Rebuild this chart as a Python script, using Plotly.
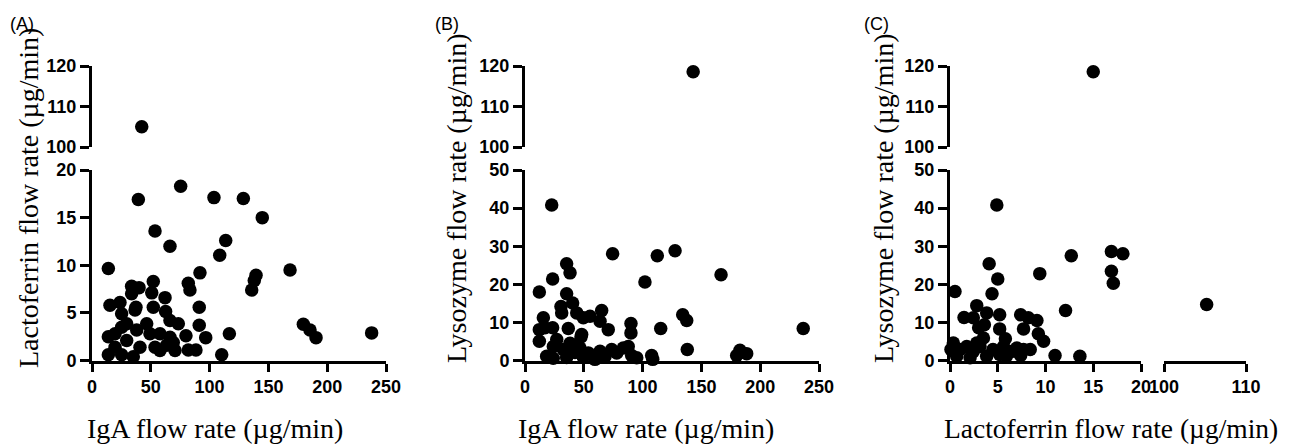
import plotly.graph_objects as go

# ---- Data ----
# Panel A: IgA flow rate (x) vs Lactoferrin flow rate (y)
A_iga = [13.9, 39.4, 75.4, 103.7, 128.7, 144.8, 53.6, 66.3, 113.7, 108.6, 91.8, 168.4, 139.5, 138.0,
         135.8, 81.9, 83.3, 52.1, 50.8, 52.1, 33.7, 40.0, 33.7, 62.1, 91.2, 15.3, 23.8, 25.2, 36.6,
         62.6, 66.3, 73.4, 91.2, 96.7, 116.8, 110.3, 179.7, 185.4, 190.5, 237.8, 13.9, 13.9, 19.6,
         25.2, 35.1, 29.5, 40.8, 46.5, 49.3, 53.6, 57.8, 63.5, 69.1, 70.6, 79.9, 81.9, 88.4, 29.5,
         38.0, 37.4, 25.2, 19.6, 57.8, 66.3, 42.3]
A_lacto = [9.65, 16.9, 18.3, 17.1, 17.0, 15.0, 13.6, 12.0, 12.6, 11.05, 9.2, 9.5, 8.95, 8.4,
           7.4, 8.1, 7.4, 8.3, 7.1, 5.6, 7.8, 7.65, 7.0, 6.6, 5.6, 5.8, 6.1, 4.9, 5.3,
           5.15, 4.2, 3.85, 3.7, 2.4, 2.8, 0.6, 3.8, 3.2, 2.4, 2.9, 0.6, 2.5, 2.8,
           0.6, 0.4, 2.1, 1.4, 3.85, 2.8, 1.4, 1.05, 1.6, 1.9, 1.05, 2.6, 1.1, 1.1, 3.85,
           3.2, 5.6, 3.5, 1.4, 2.8, 2.45, 105.0]

# Panel B: IgA flow rate (x) vs Lysozyme flow rate (y)
B_iga = [12.2, 15.6, 12.2, 12.2, 23.5, 35.4, 38.3, 35.4, 30.6, 31.2, 40.5, 44.0, 49.6, 55.3, 65.2,
         63.8, 70.8, 74.5, 23.5, 36.8, 47.6, 90.1, 90.1, 102.0, 112.5, 127.6, 115.4, 134.1, 137.5,
         138.0, 166.7, 236.6, 180.0, 182.8, 188.5, 107.7, 108.6, 18.4, 24.0, 24.1, 32.6, 35.4, 39.7,
         42.5, 46.8, 49.6, 53.8, 59.5, 63.8, 68.0, 73.7, 78.0, 83.6, 87.8, 90.7, 95.0, 27.0, 38.3,
         48.2, 17.0, 143.0, 22.7]
B_lyso = [18.0, 11.2, 8.1, 5.05, 21.4, 25.4, 23.0, 17.5, 14.2, 12.5, 15.1, 12.5, 11.2, 11.6, 13.1,
          10.3, 8.1, 28.0, 8.6, 8.4, 6.2, 9.7, 7.25, 20.6, 27.5, 28.8, 8.4, 12.0, 10.5,
          2.9, 22.5, 8.4, 1.3, 2.7, 1.8, 1.3, 0.3, 1.1, 0.6, 3.7, 2.9, 0.8, 4.2,
          2.1, 3.3, 0.9, 2.0, 0.3, 2.4, 1.0, 2.9, 2.0, 3.3, 3.7, 1.3, 0.7, 5.5, 4.5,
          6.8, 8.6, 118.6, 40.8]

# Panel C: Lactoferrin flow rate (x) vs Lysozyme flow rate (y)
C_lacto = [0.52, 4.1, 5.0, 4.4, 9.4, 12.7, 16.9, 18.1, 16.9, 17.1, 12.1, 11.0, 13.6, 2.8, 1.47, 3.84,
           5.2, 7.4, 8.2, 9.1, 7.7, 5.2, 9.25, 9.8, 5.8, 3.5, 3.0, 2.44, 3.6, 0.35, 1.05, 1.75,
           2.44, 3.14, 0.7, 2.1, 3.84, 4.5, 5.2, 5.9, 6.5, 7.0, 7.7, 8.4, 7.4, 0.1, 2.8, 5.6,
           15.0, 105.2, 4.9]
C_lyso = [18.1, 25.4, 21.4, 17.5, 22.8, 27.5, 28.6, 28.0, 23.4, 20.3, 13.1, 1.3, 1.1, 14.4, 11.3, 12.5,
          12.0, 12.0, 11.2, 10.5, 8.3, 8.3, 7.0, 5.05, 5.7, 5.9, 8.6, 11.2, 9.4, 4.6, 2.9, 3.7,
          2.4, 3.7, 1.1, 0.7, 1.1, 2.9, 1.6, 1.1, 2.4, 3.3, 2.9, 2.9, 1.3, 2.9, 4.6, 3.7,
          118.6, 14.7, 40.8]

A_ytick_low = [0, 5, 10, 15, 20]
BC_ytick_low = [0, 10, 20, 30, 40, 50]
ytick_high = [100, 110, 120]
iga_ticks = [0, 50, 100, 150, 200, 250]
lacto_ticks_low = [0, 5, 10, 15, 20]
lacto_ticks_high = [100, 110]

panel_labels = ["(A)", "(B)", "(C)"]
x_titles = ["IgA flow rate (µg/min)", "IgA flow rate (µg/min)", "Lactoferrin flow rate (µg/min)"]
y_titles = ["Lactoferrin flow rate (µg/min)", "Lysozyme flow rate (µg/min)", "Lysozyme flow rate (µg/min)"]

# ---- Layout helpers ----
W, H = 1294, 445
OFF = 8  # page body margin compensation
def px_x(a, b):
    return [(a - OFF) / W, (b - OFF) / W]
def px_y(top, bottom):
    return [1 - (bottom - OFF) / H, 1 - (top - OFF) / H]
def fx(a):
    return (a - OFF) / W
def fy(a):
    return 1 - (a - OFF) / H

TICKFONT = dict(family="Liberation Sans, Arial", size=18, color="black")
TITLEFONT = dict(family="Liberation Serif, Times New Roman", size=28, color="black")
LW = 3

def axis_common(vals, **kw):
    d = dict(showline=True, linewidth=LW, linecolor="black", ticks="outside", tickwidth=LW,
             tickcolor="black", showgrid=False, zeroline=False, tickfont=TICKFONT, tickmode="array",
             tickvals=vals, ticktext=["<b>%g</b>" % v for v in vals],
             fixedrange=True, automargin=False)
    d.update(kw)
    return d

def break_axis(vals, over, anchor, dom, rng):
    return dict(overlaying=over, anchor=anchor, domain=dom, range=rng, tickmode="array", tickvals=vals,
                ticks="inside", ticklen=5, tickwidth=LW, tickcolor="black", showticklabels=False,
                showline=False, showgrid=False, zeroline=False, fixedrange=True, automargin=False)

fig = go.Figure()
MK = dict(color="black", size=13.5, line=dict(width=0))

def add_points(xs, ys, xa, ya):
    fig.add_trace(go.Scatter(x=xs, y=ys, mode="markers", marker=MK, xaxis=xa, yaxis=ya,
                             cliponaxis=False, showlegend=False, hoverinfo="skip"))

# Panel A
lo = [(x, y) for x, y in zip(A_iga, A_lacto) if y < 100]
hi = [(x, y) for x, y in zip(A_iga, A_lacto) if y >= 100]
add_points([p[0] for p in lo], [p[1] for p in lo], "x", "y")
add_points([p[0] for p in hi], [p[1] for p in hi], "x", "y2")

# Panel B
lo = [(x, y) for x, y in zip(B_iga, B_lyso) if y < 100]
hi = [(x, y) for x, y in zip(B_iga, B_lyso) if y >= 100]
add_points([p[0] for p in lo], [p[1] for p in lo], "x3", "y3")
add_points([p[0] for p in hi], [p[1] for p in hi], "x3", "y4")

# Panel C
ll = [(x, y) for x, y in zip(C_lacto, C_lyso) if y < 100 and x < 100]
lh = [(x, y) for x, y in zip(C_lacto, C_lyso) if y >= 100 and x < 100]
rl = [(x, y) for x, y in zip(C_lacto, C_lyso) if y < 100 and x >= 100]
add_points([p[0] for p in ll], [p[1] for p in ll], "x5", "y5")
add_points([p[0] for p in lh], [p[1] for p in lh], "x5", "y6")
add_points([p[0] for p in rl], [p[1] for p in rl], "x6", "y5")

YT, YM1, YM2, YB = 66, 147, 170, 360.5
dC1, dC2 = px_x(950, 1141), px_x(1164, 1246)

fig.update_layout(
    template="none",
    width=W, height=H, margin=dict(l=0, r=0, t=0, b=0, autoexpand=False),
    paper_bgcolor="white", plot_bgcolor="rgba(0,0,0,0)", showlegend=False,
    # Panel A
    xaxis=axis_common(iga_ticks, domain=px_x(92, 386), range=[0, 250], anchor="y", ticklen=8),
    yaxis=axis_common(A_ytick_low, domain=px_y(YM2, YB), range=[0, 20], anchor="x", ticklen=9),
    yaxis2=axis_common(ytick_high, domain=px_y(YT, YM1), range=[100, 120], anchor="x", ticklen=9),
    # Panel B
    xaxis3=axis_common(iga_ticks, domain=px_x(525, 819), range=[0, 250], anchor="y3", ticklen=8),
    yaxis3=axis_common(BC_ytick_low, domain=px_y(YM2, YB), range=[0, 50], anchor="x3", ticklen=9),
    yaxis4=axis_common(ytick_high, domain=px_y(YT, YM1), range=[100, 120], anchor="x3", ticklen=9),
    # Panel C
    xaxis5=axis_common(lacto_ticks_low, domain=dC1, range=[0, 20], anchor="y5", ticklen=8),
    xaxis6=axis_common(lacto_ticks_high, domain=dC2, range=[100, 110], anchor="y5", ticklen=8),
    yaxis5=axis_common(BC_ytick_low, domain=px_y(YM2, YB), range=[0, 50], anchor="x5", ticklen=9),
    yaxis6=axis_common(ytick_high, domain=px_y(YT, YM1), range=[100, 120], anchor="x5", ticklen=9),
    # break markers on the x-axis of panel C (upward stubs at the break ends)
    xaxis7=break_axis([lacto_ticks_low[-1]], "x5", "y5", dC1, [0, 20]),
    xaxis8=break_axis([lacto_ticks_high[0]], "x6", "y5", dC2, [100, 110]),
)

# Panel labels and axis titles
label_x = [8, 433, 862]
ytitle_x = [29, 457, 884]
xtitle_x = [215, 646, 1111]
xtitle_size = [28, 28, 27.5]
ann = []
for i in range(3):
    ann.append(dict(text=panel_labels[i], x=fx(label_x[i]), y=fy(24), xref="paper", yref="paper",
                    xanchor="left", yanchor="middle", showarrow=False,
                    font=dict(family="Liberation Sans, Arial", size=18, color="black")))
    ann.append(dict(text=y_titles[i], x=fx(ytitle_x[i]), y=fy(198), xref="paper", yref="paper",
                    xanchor="center", yanchor="middle", textangle=-90, showarrow=False, font=TITLEFONT))
    ann.append(dict(text=x_titles[i], x=fx(xtitle_x[i]), y=fy(428), xref="paper", yref="paper",
                    xanchor="center", yanchor="middle", showarrow=False,
                    font=dict(TITLEFONT, size=xtitle_size[i])))
fig.update_layout(annotations=ann)

fig.write_html("out.html")
